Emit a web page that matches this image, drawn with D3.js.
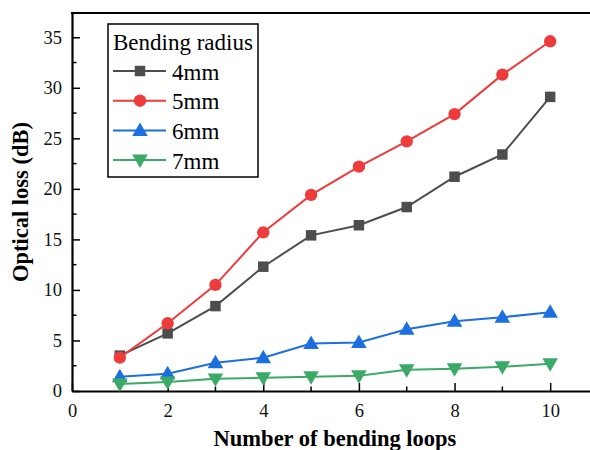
<!DOCTYPE html>
<html>
<head>
<meta charset="utf-8">
<script src="https://cdn.jsdelivr.net/npm/d3@7"></script>
<style>
  body { margin: 0; background: #fff; }
  svg text { font-family: "Liberation Serif", "Tinos", "Times New Roman", serif; }
</style>
</head>
<body>
<svg id="chart" width="590" height="450"></svg>
<script>
// data
const loops = [1, 2, 3, 4, 5, 6, 7, 8, 9, 10]
const loss4mm = [3.5, 5.7, 8.4, 12.3, 15.4, 16.4, 18.2, 21.2, 23.4, 29.1]
const loss5mm = [3.3, 6.7, 10.5, 15.7, 19.4, 22.2, 24.7, 27.4, 31.3, 34.6]
const loss6mm = [1.4, 1.7, 2.8, 3.3, 4.7, 4.8, 6.1, 6.9, 7.3, 7.8]
const loss7mm = [0.7, 0.9, 1.2, 1.3, 1.4, 1.5, 2.1, 2.2, 2.4, 2.7]
const seriesNames = ["4mm", "5mm", "6mm", "7mm"]
const xTicks = [0, 2, 4, 6, 8, 10]
const yTicks = [0, 5, 10, 15, 20, 25, 30, 35]

const series = [
  { name: seriesNames[0], values: loss4mm, color: "#4d4d4d", shape: "square" },
  { name: seriesNames[1], values: loss5mm, color: "#ee3b3b", shape: "circle" },
  { name: seriesNames[2], values: loss6mm, color: "#1c6fde", shape: "up" },
  { name: seriesNames[3], values: loss7mm, color: "#3aaa66", shape: "down" }
]

let margin = { top: 13, left: 72, right: 598, bottom: 391 }

let svg = d3.select("#chart")

let x = d3.scaleLinear().domain([0, 11]).range([margin.left, margin.right])
let y = d3.scaleLinear().domain([0, 37.4]).range([margin.bottom, margin.top])

// major ticks point inward
let xAxis = d3.axisBottom(x).tickValues(xTicks).tickSizeInner(-8).tickSizeOuter(0)
let yAxis = d3.axisLeft(y).tickValues(yTicks).tickSizeInner(-8).tickSizeOuter(0).tickPadding(10)

let gx = svg.append("g").attr("transform", "translate(0," + margin.bottom + ")").call(xAxis)
let gy = svg.append("g").attr("transform", "translate(" + margin.left + ",0)").call(yAxis)
gx.attr("font-family", null)
gy.attr("font-family", null)

// minor ticks
let xMinor = d3.range(1, 11, 2)
let yMinor = d3.range(2.5, 37.5, 5)
gx.selectAll(".minor").data(xMinor).enter().append("line")
  .attr("class", "minor")
  .attr("x1", d => x(d)).attr("x2", d => x(d))
  .attr("y1", 0).attr("y2", -4.5)
  .attr("stroke", "#000").attr("stroke-width", 1.5)
gy.selectAll(".minor").data(yMinor).enter().append("line")
  .attr("class", "minor")
  .attr("y1", d => y(d)).attr("y2", d => y(d))
  .attr("x1", 0).attr("x2", 4.5)
  .attr("stroke", "#000").attr("stroke-width", 1.5)

svg.selectAll(".domain").attr("stroke", "#000").attr("stroke-width", 2.2)
svg.selectAll(".tick line").attr("stroke", "#000").attr("stroke-width", 1.5)
svg.selectAll(".tick text").attr("font-size", 18.5).attr("fill", "#111")
gx.selectAll(".tick text").attr("y", 26).attr("dy", null)

// top frame line
svg.append("line")
  .attr("x1", margin.left - 1).attr("x2", 590)
  .attr("y1", margin.top).attr("y2", margin.top)
  .attr("stroke", "#000").attr("stroke-width", 2.2)

// axis titles
svg.append("text")
  .attr("x", (margin.left + margin.right) / 2).attr("y", 446)
  .attr("text-anchor", "middle")
  .attr("font-size", 22.5).attr("font-weight", "bold")
  .text("Number of bending loops")

svg.append("text")
  .attr("transform", "translate(28," + ((margin.top + margin.bottom) / 2) + ") rotate(-90)")
  .attr("text-anchor", "middle")
  .attr("font-size", 22.5).attr("font-weight", "bold")
  .text("Optical loss (dB)")

function symbolFor(shape) {
  if (shape == "square") return d3.symbol().type(d3.symbolSquare).size(110)
  if (shape == "circle") return d3.symbol().type(d3.symbolCircle).size(120)
  return d3.symbol().type(d3.symbolTriangle).size(105)
}

function markTransform(shape, px, py) {
  let dy = shape == "up" ? 1 : shape == "down" ? -1 : 0
  return "translate(" + px + "," + (py + dy) + ")" + (shape == "down" ? " rotate(180)" : "")
}

let line = d3.line()
  .x((d, i) => x(loops[i]))
  .y(d => y(d))

series.forEach(function(s) {
  let g = svg.append("g")
  g.append("path")
    .attr("d", line(s.values))
    .attr("fill", "none")
    .attr("stroke", s.color)
    .attr("stroke-width", 2)
  g.selectAll("path.pt").data(s.values).enter().append("path")
    .attr("class", "pt")
    .attr("d", symbolFor(s.shape)())
    .attr("transform", (d, i) => markTransform(s.shape, x(loops[i]), y(d)))
    .attr("fill", s.color)
})

// legend
let legend = svg.append("g")
legend.append("rect")
  .attr("x", 108).attr("y", 24).attr("width", 150).attr("height", 153)
  .attr("fill", "#fff").attr("stroke", "#000").attr("stroke-width", 1.5)
legend.append("text")
  .attr("x", 113).attr("y", 50)
  .attr("font-size", 23)
  .text("Bending radius")

series.forEach(function(s, i) {
  let cy = 71 + i * 29.7
  legend.append("line")
    .attr("x1", 113).attr("x2", 166)
    .attr("y1", cy).attr("y2", cy)
    .attr("stroke", s.color).attr("stroke-width", 2)
  legend.append("path")
    .attr("d", symbolFor(s.shape)())
    .attr("transform", markTransform(s.shape, 140, cy))
    .attr("fill", s.color)
  legend.append("text")
    .attr("x", 172).attr("y", cy + 8.5)
    .attr("font-size", 23)
    .text(s.name)
})
</script>
</body>
</html>
